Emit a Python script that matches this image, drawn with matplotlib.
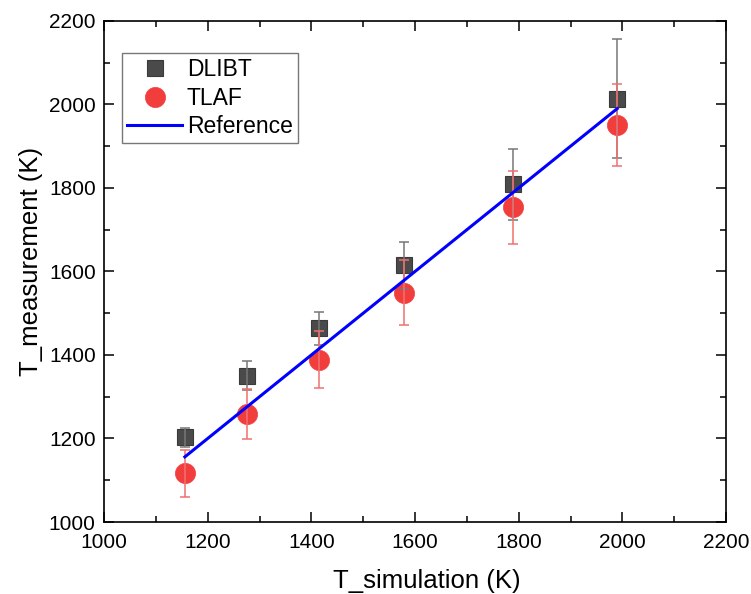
import matplotlib.pyplot as plt
from matplotlib.ticker import MultipleLocator

plt.rcParams['font.family'] = ['Liberation Sans', 'DejaVu Sans']

# simulated vs measured temperatures (K)
t_simulation = [1156, 1275, 1415, 1579, 1789, 1990]

dlibt = [1203, 1350, 1464, 1615, 1809, 2014]
dlibt_err = [23, 35, 39, 56, 85, 143]

tlaf = [1117, 1259, 1389, 1549, 1754, 1950]
tlaf_err = [56, 60, 68, 78, 87, 98]

fig = plt.figure(figsize=(7.51, 5.94), dpi=100)
ax = fig.add_axes([104 / 751, 1 - 522 / 594, 622 / 751, 501 / 594])

ax.plot(t_simulation, dlibt, ls='none', marker='s', ms=12, mfc='#4a4a4a',
        mec='#3a3a3a', mew=0.8, label='DLIBT', zorder=2)
ax.plot(t_simulation, tlaf, ls='none', marker='o', ms=14.5, mfc='#f23d3d',
        mec='#f23d3d', mew=0.5, label='TLAF', zorder=2)

ax.errorbar(t_simulation, dlibt, yerr=dlibt_err, fmt='none', ecolor='#777777',
            elinewidth=1.1, capsize=3.3, capthick=1.1, zorder=3)
ax.errorbar(t_simulation, tlaf, yerr=tlaf_err, fmt='none', ecolor='#f07070',
            elinewidth=1.1, capsize=3.3, capthick=1.1, zorder=3)

# y = x reference over the simulated range
ax.plot(t_simulation, t_simulation, color='#0000ff', lw=2.2, label='Reference', zorder=4)

ax.set_xlim(1000, 2200)
ax.set_ylim(1000, 2200)
ax.xaxis.set_major_locator(MultipleLocator(200))
ax.xaxis.set_minor_locator(MultipleLocator(100))
ax.yaxis.set_major_locator(MultipleLocator(200))
ax.yaxis.set_minor_locator(MultipleLocator(100))
ax.tick_params(which='both', direction='in', top=True, right=True, width=1.1,
               labelsize=15)
ax.tick_params(axis='x', pad=8)
ax.tick_params(axis='y', pad=6)
ax.tick_params(which='major', length=7)
ax.tick_params(which='minor', length=4)
for sp in ax.spines.values():
    sp.set_linewidth(1.2)

ax.set_xlabel('T_simulation (K)', fontsize=18.5)
ax.set_ylabel('T_measurement (K)', fontsize=18.5)
ax.xaxis.set_label_coords(0.519, -0.094)
ax.yaxis.set_label_coords(-0.098, 0.52)

leg = ax.legend(loc='upper left', bbox_to_anchor=(0.029, 0.936), borderaxespad=0,
                fontsize=16.5, frameon=True, fancybox=False, handlelength=2.4,
                handletextpad=0.2, borderpad=0.22, labelspacing=0.24)
leg.get_frame().set_edgecolor('#555555')
leg.get_frame().set_linewidth(1.0)

fig.savefig('out.png', dpi=100)
